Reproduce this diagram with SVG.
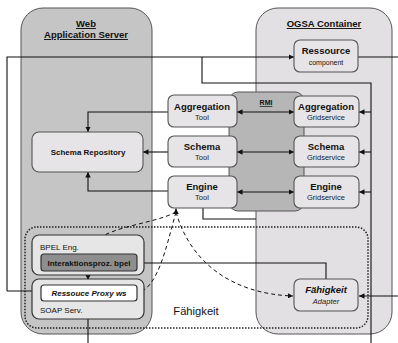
<svg xmlns="http://www.w3.org/2000/svg" width="398" height="343" viewBox="0 0 398 343">
<style>
text{font-family:"Liberation Sans",Arial,sans-serif;fill:#111;text-anchor:middle}
.b{font-weight:bold}
.t{font-size:9.5px;font-weight:bold}
.s{font-size:7.5px;fill:#222}
.box{fill:#e6e4e6;stroke:#555;stroke-width:1.1}
.ln{fill:none;stroke:#111;stroke-width:1.1}
.ds{fill:none;stroke:#111;stroke-width:1;stroke-dasharray:4 3}
</style>
<defs>
<marker id="ah" viewBox="0 0 10 10" refX="10" refY="5" markerWidth="5" markerHeight="5" orient="auto-start-reverse">
<path d="M0,0 L10,5 L0,10 z" fill="#111"/>
</marker>
</defs>
<rect width="398" height="343" fill="#fff"/>
<g id="web-server">
<rect x="21" y="8" width="131" height="326" rx="22" fill="#c6c5c6" stroke="#555" stroke-width="1"/>
<text x="86" y="27" class="t" text-decoration="underline">Web</text>
<text x="86" y="38" class="t" text-decoration="underline">Application Server</text>
</g>
<g id="ogsa-container">
<rect x="256" y="8" width="136" height="326" rx="22" fill="#e3e0e3" stroke="#555" stroke-width="1"/>
<text x="324" y="27" class="t" text-decoration="underline">OGSA Container</text>
</g>
<g id="rmi">
<rect x="229" y="92" width="75" height="119" rx="9" fill="#b7b6b7" stroke="#555" stroke-width="1"/>
<text x="266" y="105" class="b" font-size="7px" text-decoration="underline">RMI</text>
</g>
<g id="faehigkeit">
<rect x="25" y="227" width="343" height="101" rx="12" fill="none" stroke="#222" stroke-width="1.5" stroke-dasharray="1.5 1.5"/>
<text x="196" y="315" font-size="11.2px">Fähigkeit</text>
</g>
<g id="connectors">
<polyline class="ln" points="7,291 7,57 294,57" marker-end="url(#ah)"/>
<line class="ln" x1="7" y1="291" x2="41" y2="291"/>
<line class="ln" x1="358" y1="57" x2="398" y2="57"/>
<polyline class="ln" points="202,57 202,83 371,83 371,343"/>
<line class="ln" x1="371" y1="112" x2="359" y2="112" marker-end="url(#ah)"/>
<line class="ln" x1="371" y1="152" x2="359" y2="152" marker-end="url(#ah)"/>
<line class="ln" x1="371" y1="192" x2="359" y2="192" marker-end="url(#ah)"/>
<line class="ln" x1="237" y1="112" x2="294" y2="112" marker-start="url(#ah)" marker-end="url(#ah)"/>
<line class="ln" x1="237" y1="152" x2="294" y2="152" marker-start="url(#ah)" marker-end="url(#ah)"/>
<line class="ln" x1="237" y1="192" x2="294" y2="192" marker-start="url(#ah)" marker-end="url(#ah)"/>
<polyline class="ln" points="168,112 88,112 88,132" marker-end="url(#ah)"/>
<line class="ln" x1="168" y1="152" x2="143" y2="152" marker-end="url(#ah)"/>
<polyline class="ln" points="168,191 88,191 88,172" marker-end="url(#ah)"/>
<polyline class="ln" points="203,208 203,219 256,219"/>
<polyline class="ln" points="326,279 326,263 137,263" marker-end="url(#ah)"/>
<line class="ln" x1="398" y1="296" x2="359" y2="296" marker-end="url(#ah)"/>
<line class="ln" x1="88" y1="271" x2="88" y2="280" marker-end="url(#ah)"/>
<line class="ln" x1="88" y1="301" x2="88" y2="343"/>
<line class="ln" x1="176" y1="214" x2="176" y2="208.5" marker-end="url(#ah)"/>
<path class="ds" d="M176,212 C150,226 96,226 88,252" marker-end="url(#ah)"/>
<path class="ds" d="M176,212 C165,252 158,285 139,293" marker-end="url(#ah)"/>
<path class="ds" d="M176,212 C190,262 232,294 293,296" marker-end="url(#ah)"/>
</g>
<g id="ressource">
<rect class="box" x="294" y="40" width="64" height="32" rx="6"/>
<text x="326" y="54" class="t">Ressource</text>
<text x="326" y="65" font-size="7px">component</text>
</g>
<g id="aggregation-tool">
<rect class="box" x="168" y="95" width="69" height="32" rx="6"/>
<text x="202" y="109.5" class="t">Aggregation</text>
<text x="202" y="120" class="s">Tool</text>
</g>
<g id="schema-tool">
<rect class="box" x="168" y="136" width="69" height="31" rx="6"/>
<text x="202" y="149.5" class="t">Schema</text>
<text x="202" y="160" class="s">Tool</text>
</g>
<g id="engine-tool">
<rect class="box" x="168" y="176" width="69" height="32" rx="6"/>
<text x="202" y="189.5" class="t">Engine</text>
<text x="202" y="200" class="s">Tool</text>
</g>
<g id="aggregation-gridservice">
<rect class="box" x="294" y="96" width="65" height="31" rx="6"/>
<text x="326" y="109.5" class="t">Aggregation</text>
<text x="326" y="120" class="s">Gridservice</text>
</g>
<g id="schema-gridservice">
<rect class="box" x="294" y="136" width="65" height="31" rx="6"/>
<text x="326" y="149.5" class="t">Schema</text>
<text x="326" y="160" class="s">Gridservice</text>
</g>
<g id="engine-gridservice">
<rect class="box" x="294" y="176" width="65" height="32" rx="6"/>
<text x="326" y="189.5" class="t">Engine</text>
<text x="326" y="200" class="s">Gridservice</text>
</g>
<g id="schema-repository">
<rect class="box" x="32" y="132" width="111" height="40" rx="7"/>
<text x="88" y="155" class="b" font-size="8px">Schema Repository</text>
</g>
<g id="bpel-eng">
<rect x="32" y="235" width="112" height="40" rx="7" fill="#e6e6e6" stroke="#333" stroke-width="1.2"/>
<text x="40" y="250" font-size="8px" style="text-anchor:start">BPEL Eng.</text>
</g>
<g id="interaktionsproz">
<rect x="41" y="254" width="96" height="17" rx="3" fill="#8e8e8e" stroke="#333" stroke-width="1.2"/>
<text x="89" y="265.5" class="b" font-size="8px">Interaktionsproz. bpel</text>
</g>
<g id="soap-serv">
<rect x="32" y="279" width="112" height="40" rx="7" fill="#e6e6e6" stroke="#333" stroke-width="1.2"/>
<text x="40" y="313" font-size="8px" style="text-anchor:start">SOAP Serv.</text>
</g>
<g id="ressouce-proxy">
<rect x="41" y="285" width="96" height="16" rx="3" fill="#fff" stroke="#333" stroke-width="1.2"/>
<text x="89" y="296" class="b" font-size="8px" font-style="italic">Ressouce Proxy ws</text>
</g>
<g id="faehigkeit-adapter">
<rect class="box" x="294" y="279" width="64" height="32" rx="6"/>
<text x="326" y="293" class="t" font-style="italic">Fähigkeit</text>
<text x="326" y="304" class="s" font-style="italic">Adapter</text>
</g>
</svg>
